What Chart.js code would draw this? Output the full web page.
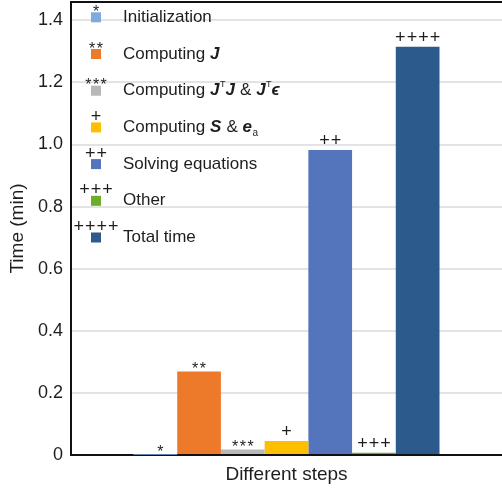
<!DOCTYPE html>
<html>
<head>
<meta charset="utf-8">
<script src="https://cdn.jsdelivr.net/npm/chart.js@4.4.1/dist/chart.umd.min.js"></script>
<style>
  html, body { margin: 0; padding: 0; background: #fff; overflow: hidden; }
  #wrap { width: 502px; height: 491px; position: relative; }
</style>
</head>
<body>
<div id="wrap"><canvas id="c" width="502" height="491"></canvas></div>
<script>
// ---- data ----
const categories = ['Initialization', 'Computing J', 'Computing JᵀJ & Jᵀϵ', 'Computing S & eₐ', 'Solving equations', 'Other', 'Total time'];
const timeValues = [0.001, 0.269, 0.018, 0.045, 0.982, 0.007, 1.315];
const markSymbols = ['*', '**', '***', '+', '++', '+++', '++++'];
const barColors = ['#7eaadc', '#ed7a2a', '#b8b8b8', '#fdbf00', '#5474bb', '#6cae2c', '#2c5a8d'];
const yTicks = [0, 0.2, 0.4, 0.6, 0.8, 1.0, 1.2, 1.4];

// rich legend label pieces (style: n = normal, b = bold italic, sup, sub)
const legendRich = [
  [['Initialization', 'n']],
  [['Computing ', 'n'], ['J', 'b']],
  [['Computing ', 'n'], ['J', 'b'], ['T', 'sup'], ['J', 'b'], [' & ', 'n'], ['J', 'b'], ['T', 'sup'], ['ϵ', 'b']],
  [['Computing ', 'n'], ['S', 'b'], [' & ', 'n'], ['e', 'b'], ['a', 'sub']],
  [['Solving equations', 'n']],
  [['Other', 'n']],
  [['Total time', 'n']]
];

const FONT = '"Liberation Sans", Arial, sans-serif';
const TXT = '#1e1e1e';

const datasets = categories.map((name, i) => ({
  label: name,
  data: [timeValues[i]],
  backgroundColor: barColors[i],
  borderWidth: 0,
  categoryPercentage: 0.71,
  barPercentage: 1.0
}));

function drawSymbol(ctx, sym, cx, y) {
  const isStar = sym[0] === '*';
  ctx.font = (isStar ? '16px ' : '18px ') + FONT;
  const sp = isStar ? 1.5 : 1;
  const w = ctx.measureText(sym[0]).width;
  const total = w * sym.length + sp * (sym.length - 1);
  ctx.textAlign = 'left';
  let x = cx - total / 2;
  for (const ch of sym) { ctx.fillText(ch, x, y); x += w + sp; }
}

const overlay = {
  id: 'overlay',
  afterDatasetsDraw(chart) {
    const ctx = chart.ctx;
    const area = chart.chartArea;
    ctx.save();
    // top frame line
    ctx.strokeStyle = '#111';
    ctx.lineWidth = 2;
    ctx.beginPath();
    ctx.moveTo(area.left - 1, area.top);
    ctx.lineTo(area.right, area.top);
    ctx.stroke();

    // labels above bars
    ctx.fillStyle = TXT;
    ctx.textBaseline = 'alphabetic';
    datasets.forEach((ds, i) => {
      const el = chart.getDatasetMeta(i).data[0];
      const sym = markSymbols[i];
      const isStar = sym[0] === '*';
      const y = isStar ? el.y + 2.5 : el.y - 4;
      drawSymbol(ctx, sym, el.x + (i === 0 ? 5 : 0), y);
    });

    // legend
    const sqX = 91, sqSize = 10, textX = 123;
    const y0 = 17.3, dy = 36.7;
    legendRich.forEach((parts, i) => {
      const cy = y0 + i * dy;
      ctx.fillStyle = barColors[i];
      ctx.fillRect(sqX, cy - sqSize / 2, sqSize, sqSize);
      // symbol
      const sym = markSymbols[i];
      const isStar = sym[0] === '*';
      ctx.fillStyle = TXT;
      drawSymbol(ctx, sym, sqX + sqSize / 2, isStar ? cy - 0.5 : cy - 5.5);
      // rich text
      ctx.textAlign = 'left';
      let x = textX;
      const base = cy + 4.5;
      parts.forEach(([t, st]) => {
        let yy = base;
        if (st === 'n') ctx.font = '17px ' + FONT;
        else if (st === 'b') ctx.font = 'italic bold 17px ' + FONT;
        else if (st === 'sup') { ctx.font = '9px ' + FONT; yy = base - 8; }
        else if (st === 'sub') { ctx.font = '10px ' + FONT; yy = base + 4; }
        ctx.fillText(t, x, yy);
        x += ctx.measureText(t).width + (st === 'b' ? 0.5 : 0);
      });
    });
    ctx.restore();
  }
};

new Chart(document.getElementById('c'), {
  type: 'bar',
  data: { labels: [''], datasets },
  options: {
    responsive: false,
    animation: false,
    devicePixelRatio: 1,
    layout: { padding: { top: 2, right: 0, left: 0, bottom: 0 } },
    plugins: { legend: { display: false }, tooltip: { enabled: false } },
    scales: {
      x: {
        ticks: { display: false },
        grid: { display: false, drawTicks: false },
        border: { display: true, color: '#111', width: 2 },
        title: { display: true, text: 'Different steps', color: TXT, font: { family: FONT, size: 19 }, padding: { top: 0, bottom: 5 } },
        afterFit(s) { s.height = 36; s.paddingLeft = 0; s.paddingRight = 0; }
      },
      y: {
        min: 0,
        max: 1.459,
        afterBuildTicks(s) { s.ticks = yTicks.map(v => ({ value: v })); },
        ticks: {
          padding: 8,
          color: TXT,
          font: { family: FONT, size: 18 },
          callback: v => (v === 0 ? '0' : v.toFixed(1))
        },
        grid: { color: '#e3e3e3', lineWidth: 2, drawTicks: false },
        border: { display: true, color: '#111', width: 2 },
        title: { display: true, text: 'Time (min)', color: TXT, font: { family: FONT, size: 19 }, padding: { top: 6, bottom: 0 } },
        afterFit(s) { s.width = 71; s.paddingTop = 0; s.paddingBottom = 0; }
      }
    }
  },
  plugins: [overlay]
});
</script>
</body>
</html>
